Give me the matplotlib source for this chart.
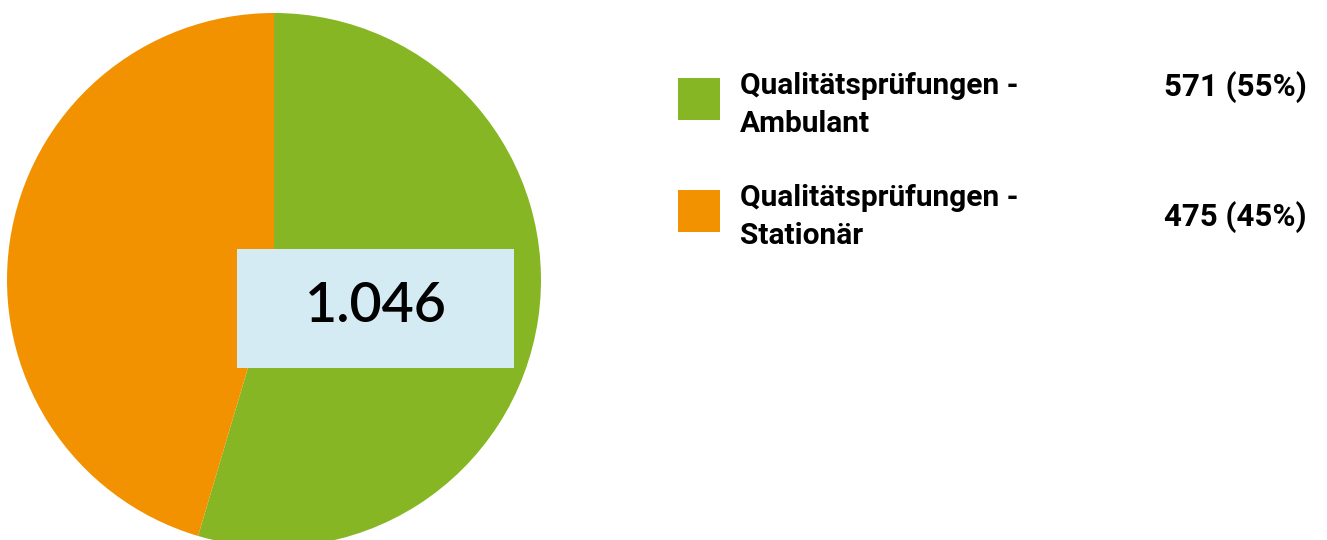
import matplotlib
matplotlib.use("Agg")
import matplotlib.pyplot as plt
from matplotlib.patches import Rectangle

# Daten
labels = ["Qualitätsprüfungen -\nAmbulant", "Qualitätsprüfungen -\nStationär"]
values = [571, 475]
value_labels = ["571 (55%)", "475 (45%)"]
total_label = "1.046"
colors = ["#86b624", "#f39200"]

plt.rcParams['font.family'] = ['Roboto', 'DejaVu Sans']

W, H = 1327, 540
fig = plt.figure(figsize=(W / 100, H / 100), dpi=100)

# Kreisdiagramm
cx, cy, r = 274, 280, 267
ax = fig.add_axes([(cx - r) / W, (H - cy - r) / H, 2 * r / W, 2 * r / H])
ax.pie(values, colors=colors, startangle=90, counterclock=False, radius=1,
       wedgeprops=dict(linewidth=0))
ax.set_xlim(-1, 1)
ax.set_ylim(-1, 1)
ax.set_aspect('equal')
ax.axis('off')

# Gesamtzahl im Kasten
bx0, by0, bx1, by1 = 237, 249, 514, 368
fig.patches.append(Rectangle((bx0 / W, 1 - by1 / H), (bx1 - bx0) / W, (by1 - by0) / H,
                             transform=fig.transFigure, facecolor="#d5ebf3",
                             edgecolor="none", zorder=5))
fig.text((bx0 + bx1) / 2 / W, 1 - 306 / H, total_label, fontsize=40, fontweight='semibold',
         family=['Lato', 'DejaVu Sans'], ha='center', va='center', zorder=6)

# Legende
sq_y = [78, 190]
val_y = [87, 217]
for i in range(len(values)):
    fig.patches.append(Rectangle((678 / W, 1 - (sq_y[i] + 42) / H), 42 / W, 42 / H,
                                 transform=fig.transFigure, facecolor=colors[i],
                                 edgecolor="none"))
    fig.text(740 / W, 1 - (sq_y[i] - 6) / H, labels[i], fontsize=21.5, fontweight='bold',
             ha='left', va='top', linespacing=1.45)
    fig.text(1307 / W, 1 - val_y[i] / H, value_labels[i], fontsize=22.5,
             fontweight='bold', ha='right', va='center')

fig.savefig("out.png", dpi=100, facecolor="white")
